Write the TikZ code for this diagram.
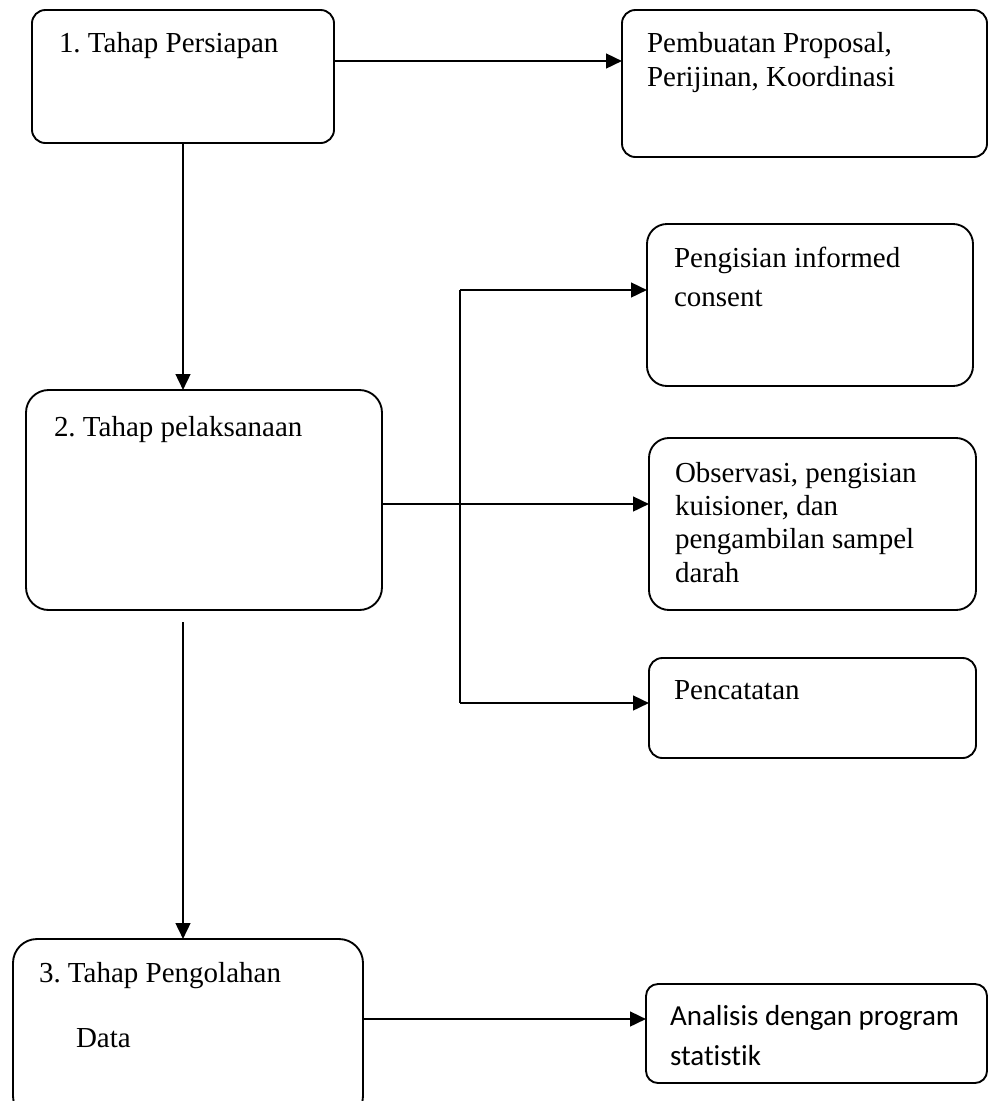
\documentclass[tikz,border=0pt]{standalone}
\usepackage{fontspec}
\setmainfont{Liberation Serif}
\newfontfamily\calibrifont[Ligatures=NoCommon]{Carlito}
\usetikzlibrary{arrows.meta,fit}
\frenchspacing
\begin{document}
\begin{tikzpicture}[x=0.75pt,y=-0.75pt,
  stagebox/.style={draw, line width=1.4pt, inner sep=0pt, outer sep=0pt, rounded corners=#1},
  stagebox/.default=10pt,
  txt/.style={inner sep=0pt, outer sep=0pt, anchor=base west, font=\fontsize{21.75pt}{26pt}\selectfont},
  sanstxt/.style={txt, font=\calibrifont\fontsize{21.75pt}{26pt}\selectfont},
  conn/.style={line width=1.9pt},
  thinconn/.style={line width=1pt},
  arr/.style={conn, -{Triangle[length=12pt,width=11pt]}},
]
\useasboundingbox (0,0) rectangle (988,1101);
\fill[white] (0,0) rectangle (988,1101);

% boxes
\node[stagebox=10pt, fit={(32,10) (334,143)}] (b1) {};
\node[stagebox=10pt, fit={(622,10) (987,157)}] (prop) {};
\node[stagebox=17pt, fit={(26,390) (382,610)}] (b2) {};
\node[stagebox=15pt, fit={(647,224) (973,386)}] (inf) {};
\node[stagebox=15pt, fit={(649,438) (976,610)}] (obs) {};
\node[stagebox=10pt, fit={(649,658) (976,758)}] (pen) {};
\node[stagebox=18pt, fit={(13,939) (363,1120)}] (b3) {};
\node[stagebox=9pt, fit={(646,984) (987,1083)}] (ana) {};

% helper coordinates
\coordinate (y1) at (0,61);
\coordinate (j1) at (460,290);
\coordinate (j2) at (460,504);
\coordinate (j3) at (460,703);
\coordinate (v2) at (183,622);
\coordinate (y3) at (0,1019);

% connectors
\draw[arr] (b1.east |- y1) -- (prop.west |- y1);
\draw[arr] (b1.south) -- (b1.south |- b2.north);
\draw[thinconn] (j1) -- (j3);
\draw[arr] (j1) -- (inf.west |- j1);
\draw[thinconn] (b2.east |- j2) -- (j2);
\draw[arr] (j2) -- (obs.west |- j2);
\draw[arr] (j3) -- (pen.west |- j3);
\draw[arr] (v2) -- (v2 |- b3.north);
\draw[arr] (b3.east |- y3) -- (ana.west |- y3);

% texts
\node[txt] (t1) at (59,52) {1. Tahap Persiapan};
\node[txt] (tp1) at (647,52) {Pembuatan Proposal,};
\node[txt] (tp2) at (647,86) {Perijinan, Koordinasi};
\node[txt] (t2) at (54,436) {2. Tahap pelaksanaan};
\node[txt] (ti1) at (674,267) {Pengisian informed};
\node[txt] (ti2) at (674,306) {consent};
\node[txt] (to1) at (675,482) {Observasi, pengisian};
\node[txt] (to2) at (675,515) {kuisioner, dan};
\node[txt] (to3) at (675,548) {pengambilan sampel};
\node[txt] (to4) at (675,582) {darah};
\node[txt] (tc) at (674,699) {Pencatatan};
\node[txt] (t3) at (39,982) {3. Tahap Pengolahan};
\node[txt] (t3b) at (76,1047) {Data};
\node[sanstxt] (ta1) at (670,1025) {Analisis dengan program};
\node[sanstxt] (ta2) at (670,1065) {statistik};
\end{tikzpicture}
\end{document}
